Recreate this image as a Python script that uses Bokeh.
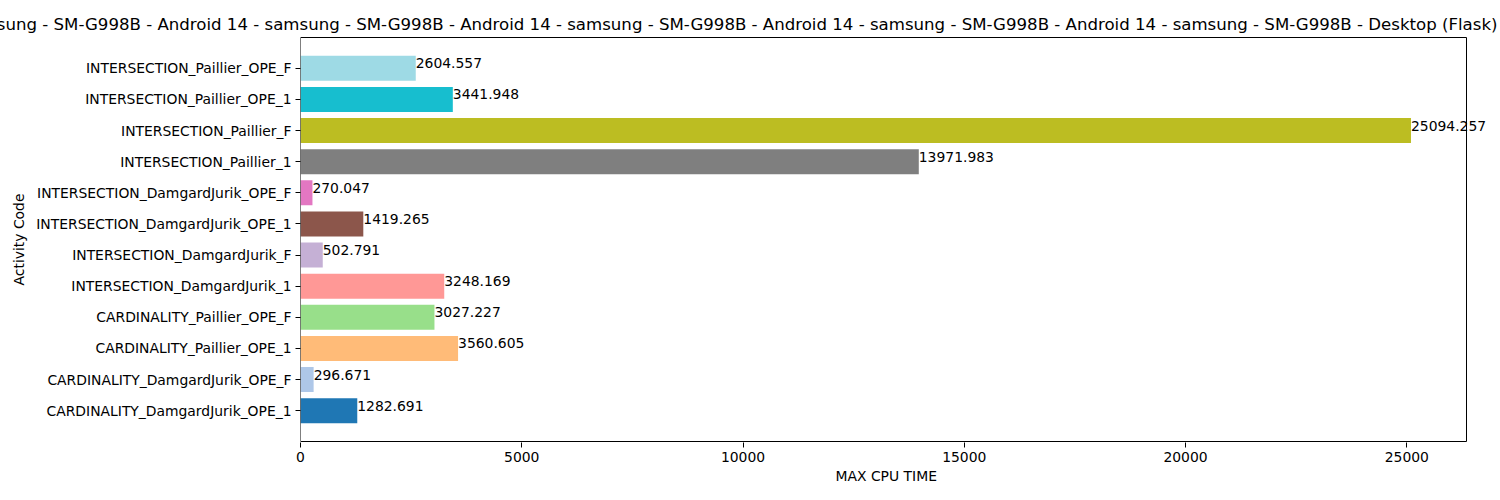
from bokeh.plotting import figure
from bokeh.models import ColumnDataSource, Range1d, FixedTicker, Title, LabelSet
from bokeh.core.properties import value
from bokeh.embed import file_html
from bokeh.resources import INLINE

activity_codes = [
    "CARDINALITY_DamgardJurik_OPE_1",
    "CARDINALITY_DamgardJurik_OPE_F",
    "CARDINALITY_Paillier_OPE_1",
    "CARDINALITY_Paillier_OPE_F",
    "INTERSECTION_DamgardJurik_1",
    "INTERSECTION_DamgardJurik_F",
    "INTERSECTION_DamgardJurik_OPE_1",
    "INTERSECTION_DamgardJurik_OPE_F",
    "INTERSECTION_Paillier_1",
    "INTERSECTION_Paillier_F",
    "INTERSECTION_Paillier_OPE_1",
    "INTERSECTION_Paillier_OPE_F",
]
max_cpu_time = [
    1282.691, 296.671, 3560.605, 3027.227, 3248.169, 502.791,
    1419.265, 270.047, 13971.983, 25094.257, 3441.948, 2604.557,
]
bar_colors = [
    "#1f77b4", "#aec7e8", "#ffbb78", "#98df8a", "#ff9896", "#c5b0d5",
    "#8c564b", "#e377c2", "#7f7f7f", "#bcbd22", "#17becf", "#9edae5",
]
value_labels = ["%.3f" % v for v in max_cpu_time]
x_ticks = [0, 5000, 10000, 15000, 20000, 25000]

title_text = "samsung - SM-G998B - Android 14 - " * 4 + "samsung - SM-G998B - Desktop (Flask)"
x_label = "MAX CPU TIME"
y_label = "Activity Code"

FONT = "DejaVu Sans"
TICK_SIZE = "13.9px"

n = len(activity_codes)
positions = list(range(n))
source = ColumnDataSource(dict(
    y=positions, right=max_cpu_time, color=bar_colors, label=value_labels,
))

# axes box (matplotlib-like): x from 0 to 1.05*max, y with 5% margins
xmax = max(max_cpu_time) * 1.05
ymin = -0.4 - 0.05 * (n - 0.2)
ymax = n - 1 + 0.4 + 0.05 * (n - 0.2)

# the plotting frame is a bit larger than the axes box so that the value
# labels may overflow the right spine, as in the reference
box_px_w = 1166.0
box_px_h = 404.0
ext_right_px = 24.0
x_end = xmax * (box_px_w + ext_right_px) / box_px_w
dy = (ymax - ymin) / box_px_h
p = figure(
    width=1500, height=500,
    output_backend="svg", toolbar_location=None,
    x_range=Range1d(0, x_end),
    y_range=Range1d(ymin - dy, ymax + dy),
    min_border_left=300, min_border_right=10,
    min_border_top=36, min_border_bottom=58,
    title=None,
)

t = Title(text=title_text, align="right", offset=-7,
          text_font=FONT, text_font_size="16.6px", text_font_style="normal",
          text_color="black", standoff=5)
p.add_layout(t, "above")

xt = Title(text=x_label, align="left", offset=535,
           text_font=FONT, text_font_size=TICK_SIZE, text_font_style="normal",
           text_color="black", standoff=6, vertical_align="top")
p.add_layout(xt, "below")

p.hbar(y="y", left=0, right="right", height=0.8, fill_color="color",
       line_color=None, source=source)
labels = LabelSet(x="right", y="y", text="label", source=source,
                  text_font=value(FONT), text_font_size=value(TICK_SIZE),
                  text_align="left", text_baseline="alphabetic",
                  text_color="black")
p.add_layout(labels)

# spines
p.quad(left=0, right=xmax, bottom=ymin, top=ymax, fill_color=None,
       line_color="black", line_width=1)

p.xgrid.visible = False
p.ygrid.visible = False
p.outline_line_color = None
p.background_fill_color = "white"
p.border_fill_color = "white"

p.xaxis.ticker = FixedTicker(ticks=x_ticks)
p.xaxis.minor_tick_line_color = None
p.yaxis.ticker = FixedTicker(ticks=positions)
p.yaxis.major_label_overrides = {i: c for i, c in enumerate(activity_codes)}
p.yaxis.minor_tick_line_color = None

for ax in (p.xaxis[0], p.yaxis[0]):
    ax.major_tick_out = 5
    ax.major_tick_in = 0
    ax.major_tick_line_color = "black"
    ax.axis_line_color = None
    ax.major_label_text_font = FONT
    ax.major_label_text_font_size = TICK_SIZE
    ax.major_label_text_color = "black"
    ax.axis_label_text_font = FONT
    ax.axis_label_text_font_size = TICK_SIZE
    ax.axis_label_text_font_style = "normal"
    ax.axis_label_text_color = "black"
    ax.major_label_standoff = 4

p.yaxis.axis_label = y_label
p.yaxis.axis_label_standoff = 6

open("out.html", "w").write(file_html(p, INLINE))
